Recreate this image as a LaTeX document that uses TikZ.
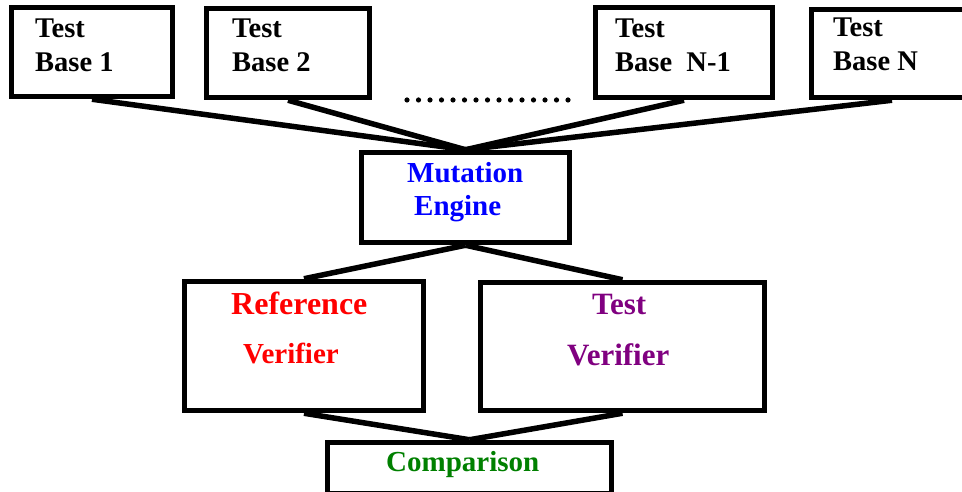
\documentclass[tikz,border=0pt]{standalone}
\usepackage{fontspec}
\setmainfont{Liberation Serif}
\definecolor{engineblue}{RGB}{0,0,255}
\definecolor{refred}{RGB}{255,0,0}
\definecolor{testpurple}{RGB}{128,0,128}
\definecolor{cmpgreen}{RGB}{0,128,0}
\newcommand{\bsize}[1]{\bfseries\fontsize{#1}{#1}\selectfont}
\begin{document}
\begin{tikzpicture}[x=1pt,y=1pt,
  box/.style={draw, line width=5.5pt, inner sep=0pt, fill=white},
  link/.style={draw, line width=5.5pt},
  lbl/.style={anchor=base west, inner sep=0pt}]
\useasboundingbox (0,0) rectangle (962,492);

% test bases
\node[box, minimum width=161pt, minimum height=89pt] (tb1) at (92,440) {};
\node[box, minimum width=163pt, minimum height=89pt] (tb2) at (288,439) {};
\node[box, minimum width=177pt, minimum height=90pt] (tb3) at (684,439.5) {};
\node[box, minimum width=161pt, minimum height=88pt] (tb4) at (892,438.5) {};

% engine, verifiers, comparison
\node[box, minimum width=208pt, minimum height=90pt] (me) at (465.5,294.5) {};
\node[box, minimum width=239pt, minimum height=129pt] (rv) at (304,146) {};
\node[box, minimum width=284pt, minimum height=128pt] (tv) at (622.5,145.5) {};
\node[box, minimum width=284pt, minimum height=51pt] (cmp) at (469.5,24) {};

% connectors
\draw[link] (tb1.south) -- (me.north);
\draw[link] (tb2.south) -- (me.north);
\draw[link] (tb3.south) -- (me.north);
\draw[link] (tb4.south) -- (me.north);
\draw[link] (me.south) -- (rv.north);
\draw[link] (me.south) -- (tv.north);
\draw[link] (rv.south) -- (cmp.north);
\draw[link] (tv.south) -- (cmp.north);

% ellipsis between the test bases
\foreach \i in {0,...,14}
  \fill (407+11.5*\i,392) circle (2.6);

% labels
\node[lbl, font=\bsize{28.5}] (t1a) at (35,454) {Test};
\node[lbl, font=\bsize{28.5}] (t1b) at (35,420) {Base 1};
\node[lbl, font=\bsize{28.5}] (t2a) at (232,454) {Test};
\node[lbl, font=\bsize{28.5}] (t2b) at (232,420) {Base 2};
\node[lbl, font=\bsize{28.5}] (t3a) at (615,454) {Test};
\node[lbl, font=\bsize{28.5}] (t3b) at (615,420) {Base~~N-1};
\node[lbl, font=\bsize{28.5}] (t4a) at (833,455) {Test};
\node[lbl, font=\bsize{28.5}] (t4b) at (833,421) {Base N};

\node[lbl, font=\bsize{29}, text=engineblue] (mea) at (407,309) {Mutation};
\node[lbl, font=\bsize{29}, text=engineblue] (meb) at (414,276) {Engine};

\node[lbl, font=\bsize{32}, text=refred] (rva) at (231,177) {Reference};
\node[lbl, font=\bsize{29}, text=refred] (rvb) at (243,128) {Verifier};

\node[lbl, font=\bsize{31}, text=testpurple] (tva) at (592,177) {Test};
\node[lbl, font=\bsize{31}, text=testpurple] (tvb) at (567,126) {Verifier};

\node[lbl, font=\bsize{29}, text=cmpgreen] (cmpa) at (386,20) {Comparison};
\end{tikzpicture}
\end{document}
